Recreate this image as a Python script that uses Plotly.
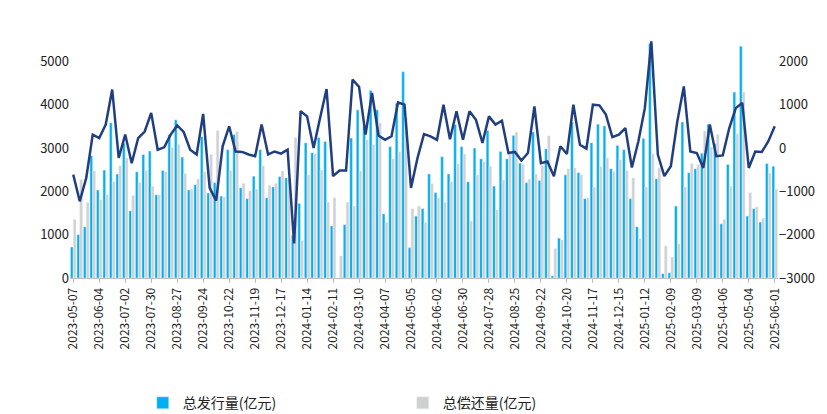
import pandas as pd
import plotly.graph_objects as go

dates = [d.strftime("%Y-%m-%d") for d in pd.date_range("2023-05-07", "2025-06-01", freq="7D")]

issue = [715,1000,1180,2820,2030,2490,3580,2400,3110,1550,2450,2850,2930,1920,2480,3310,3650,2790,2030,2150,
         3260,1960,2200,1890,2960,3310,2080,
         1830,2350,2960,1850,2100,2340,2310,985,1720,3120,2890,3240,3150,1200,0,1230,3230,3880,3500,4330,3880,
         1480,3030,4030,4760,700,1430,1600,
         2400,1970,2800,2400,3540,3030,2220,3000,2750,3400,2120,2920,2750,3290,2650,2200,3370,2250,2980,50,920,
         2380,3600,2430,1830,3120,3550,3510,
         2520,3060,2960,1830,1180,3220,5410,2290,100,120,1660,3600,2430,2520,2880,3550,3100,1250,2620,4290,5350,
         1430,1600,1290,2640,2580]
repay = [1350,2270,1740,2470,1810,1920,2220,2590,2770,1900,2200,2480,2120,1920,2450,3010,3090,2410,2050,2280,
         2450,2850,3400,1870,2480,3380,2180,
         2010,2050,2590,2130,2180,2470,2290,3240,870,2380,2870,2490,1750,1850,510,1750,1660,2470,3190,3080,3580,
         1280,2750,2910,3700,1600,1660,1280,
         2180,1850,1750,2220,2630,2860,1320,2380,2680,2580,1570,2260,2920,3370,2620,2280,2400,2600,3280,680,880,
         2520,2540,2380,1850,2100,2570,2770,
         2450,2730,2480,2310,910,2100,2870,2540,740,480,790,2100,2640,2620,3390,3020,3310,1350,2120,3330,4290,
         1970,1640,1380,2420,2050]
net = [-615,-1230,-690,310,230,540,1350,-230,310,-350,230,380,810,-40,15,310,520,370,-40,-150,
       785,-920,-1215,40,500,-80,-90,
       -150,-190,540,-150,-80,-130,-40,-2200,850,730,0,690,1360,-650,-520,-520,1580,1410,310,1270,290,
       190,270,1050,1000,-920,-230,320,
       270,190,1000,200,850,190,850,650,115,730,540,630,-115,-90,-290,-115,960,-350,-310,-650,40,
       -140,1000,75,-15,1000,985,770,
       250,310,460,-450,150,920,2460,-150,-650,-420,615,1420,-80,-115,-460,540,-190,-170,460,920,1040,
       -460,-80,-90,150,500]

tickvals = dates[::4]

fig = go.Figure()
fig.add_trace(go.Bar(x=dates, y=issue, name="总发行量(亿元)", marker_color="#00B0F0"))
fig.add_trace(go.Bar(x=dates, y=repay, name="总偿还量(亿元)", marker_color="#D0D0D0"))
fig.add_trace(go.Scatter(x=dates, y=net, name="净融资额(亿元)", mode="lines",
                         line=dict(color="#213F80", width=2.5), yaxis="y2"))

fig.update_layout(
    width=827, height=414, margin=dict(l=62, r=57, t=10, b=144, autoexpand=False),
    paper_bgcolor="white", plot_bgcolor="white",
    font=dict(family="Noto Sans CJK SC, DejaVu Sans", size=12, color="#222222"),
    barmode="group", bargap=0.12, bargroupgap=0.05,
    xaxis=dict(type="category", tickmode="array", tickvals=tickvals, ticktext=tickvals,
               tickangle=-90, showline=True, linecolor="#BFBFBF", ticks="outside",
               ticklen=4, tickcolor="#BFBFBF", tickfont=dict(size=12)),
    yaxis=dict(range=[0, 6000], dtick=1000, showgrid=False, zeroline=False, tickfont=dict(size=13)),
    yaxis2=dict(range=[-3000, 3000], dtick=1000, overlaying="y", side="right",
                showgrid=False, zeroline=False, tickfont=dict(size=13)),
    legend=dict(orientation="h", x=0.47, xanchor="center", y=-0.42, yanchor="top",
                entrywidth=215, font=dict(size=14)),
)
fig.write_html("out.html")
